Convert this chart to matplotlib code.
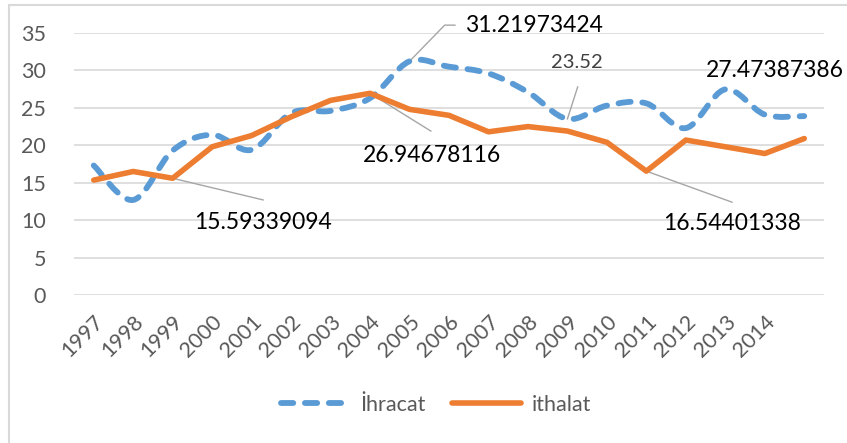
import numpy as np
import matplotlib
matplotlib.use('Agg')
import matplotlib.pyplot as plt
from matplotlib.path import Path
from matplotlib.patches import PathPatch, Rectangle
from matplotlib.lines import Line2D

plt.rcParams['font.family'] = ['Lato', 'DejaVu Sans']

years = ['1997', '1998', '1999', '2000', '2001', '2002', '2003', '2004', '2005',
         '2006', '2007', '2008', '2009', '2010', '2011', '2012', '2013', '2014', '']
ihracat = [17.3, 12.7, 19.3, 21.4, 19.4, 24.3, 24.6, 26.3, 31.21973424, 30.5,
           29.6, 27.1, 23.52, 25.3, 25.6, 22.3, 27.47387386, 24.1, 23.9]
ithalat = [15.35, 16.5, 15.59339094, 19.8, 21.3, 23.8, 26.0, 26.94678116, 24.8, 24.0,
           21.8, 22.5, 21.9, 20.4, 16.54401338, 20.7, 19.8, 18.9, 20.9]

blue = '#5B9BD5'
orange = '#ED7D31'
grid_c = '#D9D9D9'
text_c = '#595959'


def smooth_path(xs, ys):
    # bezier curve through the points, like excel's smoothed line
    pts = np.column_stack([xs, ys]).astype(float)
    n = len(pts)
    verts = [pts[0]]
    codes = [Path.MOVETO]
    for i in range(n - 1):
        p0 = pts[max(i - 1, 0)]
        p1 = pts[i]
        p2 = pts[i + 1]
        p3 = pts[min(i + 2, n - 1)]
        c1 = p1 + (p2 - p0) / 6.0
        c2 = p2 - (p3 - p1) / 6.0
        verts += [c1, c2, p2]
        codes += [Path.CURVE4] * 3
    return Path(verts, codes)


fig = plt.figure(figsize=(8.47, 4.43), dpi=100)
ax = fig.add_axes([74 / 847, 1 - 295 / 443, 750 / 847, 262 / 443])

x = np.arange(len(years))
dash = (0, (2.1, 2.0))

patch = PathPatch(smooth_path(x, ihracat), facecolor='none', edgecolor=blue,
                  linewidth=4.2, linestyle=dash, capstyle='round', zorder=3)
ax.add_patch(patch)
ax.plot(x, ithalat, color=orange, linewidth=4.0, solid_capstyle='round',
        solid_joinstyle='round', zorder=4)

ax.set_xlim(-0.5, len(years) - 0.5)
ax.set_ylim(0, 35)
ax.set_yticks(range(0, 36, 5))
ax.set_xticks(x)
ax.set_xticklabels(years, rotation=45, ha='right', rotation_mode='anchor')
ax.tick_params(axis='both', length=0, labelsize=15.5, labelcolor=text_c)
ax.tick_params(axis='y', pad=20)
ax.tick_params(axis='x', pad=12)
ax.grid(axis='y', color=grid_c, linewidth=1.2)
ax.set_axisbelow(True)
for s in ax.spines.values():
    s.set_visible(False)

lead_c = '#A6A6A6'
lab_fs = 16.5

# 31.21973424 with elbow leader
ax.plot([8, 8.89, 9.15], [ihracat[8], 36.05, 36.05], color=lead_c, lw=1, clip_on=False, zorder=2)
ax.text(9.4, 36.05, '31.21973424', fontsize=lab_fs, color='black', va='center', ha='left', clip_on=False)

# 23.52
ax.plot([12, 12.26], [ihracat[12], 27.8], color=lead_c, lw=1, zorder=2)
ax.text(12.24, 31.1, '23.52', fontsize=14.5, color='#404040', va='center', ha='center')

# 27.47387386
ax.text(17.25, 30.04, '27.47387386', fontsize=lab_fs, color='black', va='center', ha='center',
        clip_on=False)

# 26.94678116
ax.plot([7, 8.54], [ithalat[7], 21.9], color=lead_c, lw=1, zorder=2)
ax.text(8.56, 18.7, '26.94678116', fontsize=lab_fs, color='black', va='center', ha='center')

# 15.59339094
ax.plot([2, 4.29], [ithalat[2], 12.7], color=lead_c, lw=1, zorder=2)
ax.text(4.30, 9.75, '15.59339094', fontsize=lab_fs, color='black', va='center', ha='center')

# 16.54401338
ax.plot([14, 16.17], [ithalat[14], 12.4], color=lead_c, lw=1, zorder=2)
ax.text(16.17, 9.6, '16.54401338', fontsize=lab_fs, color='black', va='center', ha='center')

handles = [Line2D([0], [0], color=blue, lw=4.2, linestyle=dash, dash_capstyle='round'),
           Line2D([0], [0], color=orange, lw=4.0, solid_capstyle='round')]
leg = fig.legend(handles, ['İhracat', 'ithalat'], loc='center', ncol=2, frameon=False,
                 bbox_to_anchor=(436 / 847, 1 - 405 / 443), fontsize=15.5,
                 handlelength=3.2, handletextpad=0.5, columnspacing=1.2)
for t in leg.get_texts():
    t.set_color(text_c)

border = Rectangle((9 / 847, -0.05), 1.0, 1 - 5 / 443 + 0.05, transform=fig.transFigure,
                   facecolor='none', edgecolor=grid_c, linewidth=1.5)
fig.patches.append(border)

fig.savefig('out.png', dpi=100)
